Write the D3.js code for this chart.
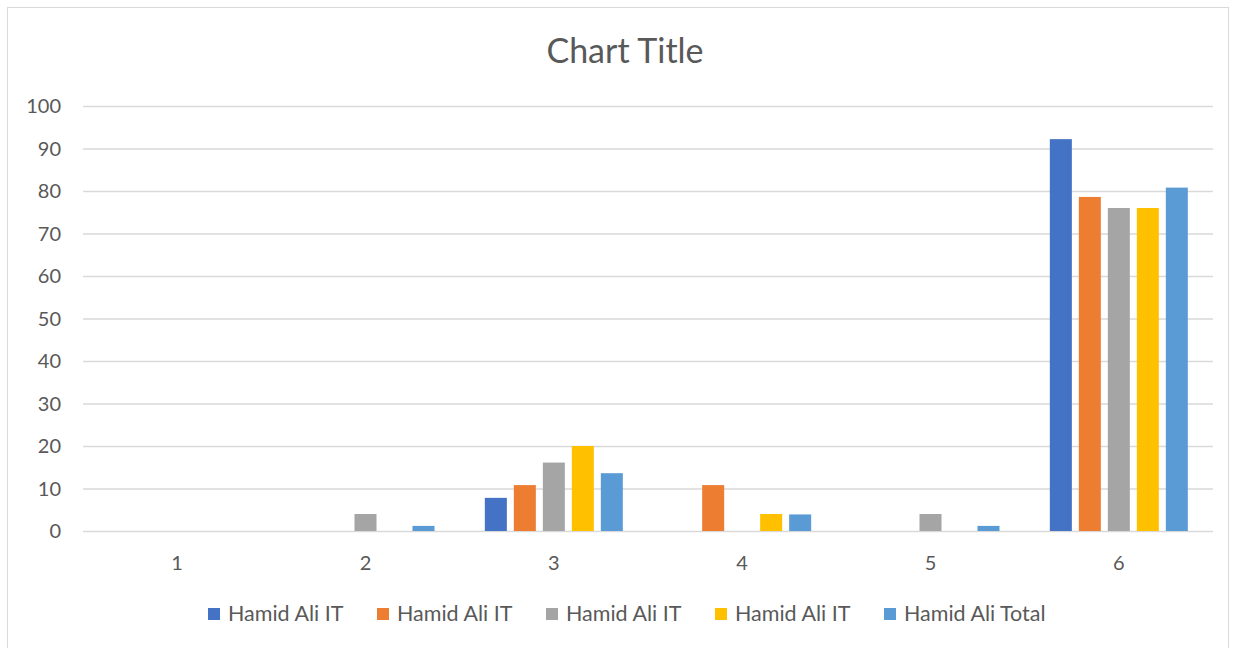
<!DOCTYPE html>
<html>
<head>
<meta charset="utf-8">
<script src="https://cdn.jsdelivr.net/npm/d3@7"></script>
<style>
  body { margin: 0; background: #fff; }
  text { font-family: Lato, "Open Sans", sans-serif; fill: #595959; }
</style>
</head>
<body>
<div id="chart"></div>
<script>
// chart data
const categories = ["1", "2", "3", "4", "5", "6"];
const seriesNames = ["Hamid Ali IT", "Hamid Ali IT", "Hamid Ali IT", "Hamid Ali IT", "Hamid Ali Total"];
const series1 = [0, 0, 7.8, 0, 0, 92.2];
const series2 = [0, 0, 10.8, 10.8, 0, 78.6];
const series3 = [0, 4, 16.1, 0, 4, 76];
const series4 = [0, 0, 20, 4, 0, 76];
const series5 = [0, 1.2, 13.6, 3.9, 1.2, 80.8];
const yTicks = [0, 10, 20, 30, 40, 50, 60, 70, 80, 90, 100];

const colours = ["#4472C4", "#ED7D31", "#A5A5A5", "#FFC000", "#5B9BD5"];
const allSeries = [series1, series2, series3, series4, series5];

var width = 1236, height = 648;
var svg = d3.select('#chart').append('svg')
    .attr('width', width)
    .attr('height', height);

// outer border
svg.append('rect')
    .attr('x', 7.5).attr('y', 7.5)
    .attr('width', 1221).attr('height', 660)
    .attr('fill', 'none')
    .attr('stroke', '#D9D9D9');

svg.append('text')
    .attr('x', 625).attr('y', 63)
    .attr('text-anchor', 'middle')
    .style('font-size', '34px')
    .text('Chart Title');

const x0 = d3.scaleBand().domain(categories).range([83, 1213]);
const x1 = d3.scaleBand().domain(d3.range(5)).range([-69, 69]).paddingInner(0.241);
const y = d3.scaleLinear().domain([0, 100]).range([531, 106]);

// gridlines
svg.append('g').selectAll('line')
    .data(yTicks)
    .enter().append('line')
    .attr('x1', 83).attr('x2', 1213)
    .attr('y1', d => y(d) + 0.5).attr('y2', d => y(d) + 0.5)
    .attr('stroke', '#D9D9D9')
    .attr('stroke-width', 1.3);

// y axis labels
svg.append('g').selectAll('text')
    .data(yTicks)
    .enter().append('text')
    .attr('x', 61)
    .attr('y', d => y(d) + 7)
    .attr('text-anchor', 'end')
    .style('font-size', '20px')
    .text(d => d);

// x axis labels
svg.append('g').selectAll('text')
    .data(categories)
    .enter().append('text')
    .attr('x', d => x0(d) + x0.bandwidth() / 2)
    .attr('y', 570)
    .attr('text-anchor', 'middle')
    .style('font-size', '20px')
    .text(d => d);

// bars
const groups = svg.append('g').selectAll('g')
    .data(categories)
    .enter().append('g')
    .attr('transform', d => `translate(${x0(d) + x0.bandwidth() / 2},0)`);

groups.selectAll('rect')
    .data((d, ci) => allSeries.map((s, si) => ({ si: si, v: s[ci] })))
    .enter().append('rect')
    .attr('x', d => x1(d.si))
    .attr('width', x1.bandwidth())
    .attr('y', d => y(d.v))
    .attr('height', d => y(0) - y(d.v))
    .attr('fill', d => colours[d.si]);

// legend
const legend = svg.append('g').selectAll('g')
    .data(seriesNames)
    .enter().append('g')
    .attr('transform', (d, i) => `translate(${208 + i * 169},608)`);

legend.append('rect')
    .attr('width', 12).attr('height', 12)
    .attr('fill', (d, i) => colours[i]);

legend.append('text')
    .attr('x', 20).attr('y', 13)
    .style('font-size', '21.5px')
    .text(d => d);
</script>
</body>
</html>
